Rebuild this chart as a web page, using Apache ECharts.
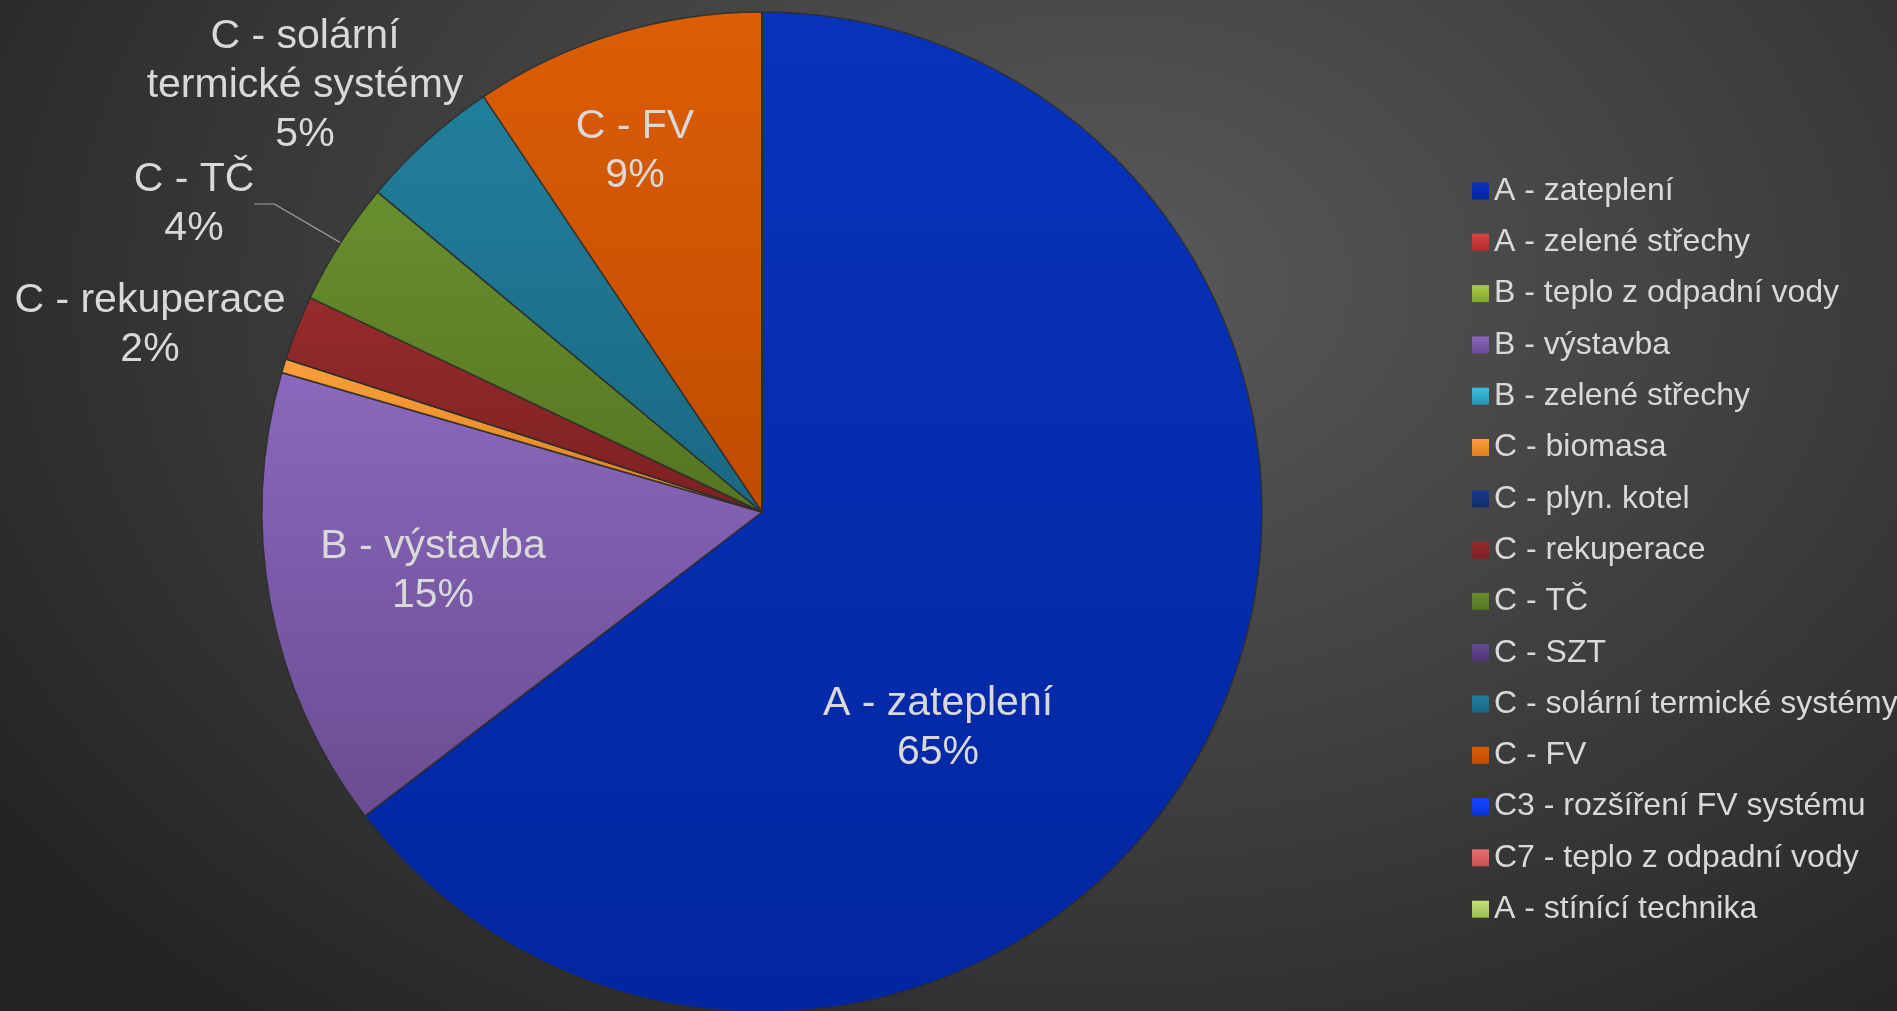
<!DOCTYPE html>
<html>
<head>
<meta charset="utf-8">
<script src="https://cdn.jsdelivr.net/npm/echarts@6/dist/echarts.min.js"></script>
<style>
  html, body { margin: 0; padding: 0; }
  body {
    width: 1897px;
    height: 1011px;
    background: radial-gradient(ellipse 70% 95% at 58% 28%, #595959 0%, #3d3d3d 55%, #242424 100%);
  }
  #chart { width: 1897px; height: 1011px; }
</style>
</head>
<body>
<div id="chart"></div>
<script>
// categories, in legend order
var categories = [
  'A - zateplení',
  'A - zelené střechy',
  'B - teplo z odpadní vody',
  'B - výstavba',
  'B - zelené střechy',
  'C - biomasa',
  'C - plyn. kotel',
  'C - rekuperace',
  'C - TČ',
  'C - SZT',
  'C - solární termické systémy',
  'C - FV',
  'C3 - rozšíření FV systému',
  'C7 - teplo z odpadní vody',
  'A - stínící technika'
]
// share of each item (%)
var shares = [64.6, 0, 0, 14.9, 0, 0.45, 0, 2.1, 4.0, 0, 4.55, 9.4, 0, 0, 0]

// slice colours (top, bottom)
var colors = [
  ['#0833bb', '#0226a0'],
  ['#d84242', '#b02c2c'],
  ['#a6cc4a', '#80a530'],
  ['#8a68bd', '#6a4c92'],
  ['#3cc0dc', '#2396b4'],
  ['#f9a03a', '#e0801c'],
  ['#1c3a8c', '#122a68'],
  ['#962c2c', '#7c2020'],
  ['#688f2e', '#557522'],
  ['#654a94', '#4e3874'],
  ['#217f9c', '#1a6882'],
  ['#dc5e06', '#c04c00'],
  ['#1448ff', '#0a34d8'],
  ['#e87070', '#c85050'],
  ['#c4e07a', '#9ebc50']
]

// where Excel put each data label (centre of the text block)
var labelPos = {
  0: [938, 728],
  3: [433, 571],
  7: [150, 325],
  8: [194, 204],
  10: [305, 86],
  11: [635, 151]
}
var wrapped = {
  'C - solární termické systémy': 'C - solární\ntermické systémy'
}

var chart = echarts.init(document.getElementById('chart'))

var data = categories.map(function (name, i) {
  var item = {
    name: name,
    value: shares[i],
    itemStyle: {
      color: {
        type: 'linear', x: 0, y: 0, x2: 0, y2: 1,
        colorStops: [{ offset: 0, color: colors[i][0] }, { offset: 1, color: colors[i][1] }]
      }
    }
  }
  if (!labelPos[i]) item.label = { show: false }
  if (name === 'C - TČ') item.labelLine = { show: true }
  return item
})

var option = {
  backgroundColor: 'transparent',
  legend: {
    orient: 'vertical',
    left: 1467,
    top: 169,
    itemWidth: 17,
    itemHeight: 17,
    itemGap: 17.3,
    icon: 'rect',
    selectedMode: false,
    itemStyle: { borderWidth: 0 },
    textStyle: {
      color: '#d9d9d9',
      fontSize: 32,
      lineHeight: 34,
      fontFamily: 'Liberation Sans, Arial, sans-serif'
    },
    data: categories
  },
  series: [{
    type: 'pie',
    center: [762, 512],
    radius: 500,
    startAngle: 90,
    clockwise: true,
    avoidLabelOverlap: false,
    animation: false,
    itemStyle: {
      borderColor: 'rgba(45,45,45,0.85)',
      borderWidth: 1.5
    },
    label: {
      show: true,
      position: 'outside',
      color: '#d9d9d9',
      fontSize: 41,
      lineHeight: 49,
      fontFamily: 'Liberation Sans, Arial, sans-serif',
      align: 'center',
      formatter: function (p) {
        var n = wrapped[p.name] || p.name
        return n + '\n' + Math.round(p.percent) + '%'
      }
    },
    labelLine: {
      show: false,
      length: 20,
      length2: 20,
      lineStyle: { color: '#a6a6a6', width: 1.2 }
    },
    labelLayout: function (params) {
      var p = labelPos[params.dataIndex]
      if (!p) return {}
      return { x: p[0], y: p[1], align: 'center', verticalAlign: 'middle' }
    },
    data: data
  }]
}

chart.setOption(option)
</script>
</body>
</html>
